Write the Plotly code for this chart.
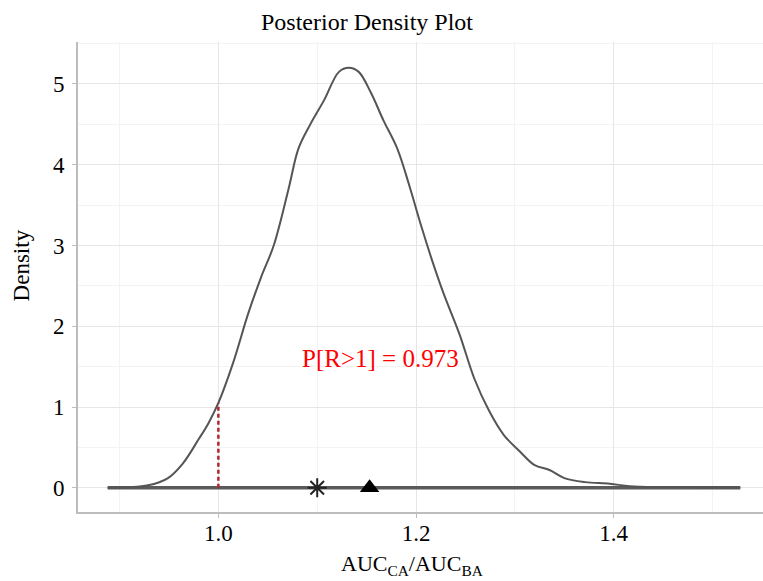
import plotly.graph_objects as go

# density curve
ratio = [0.888, 0.929, 0.949, 0.964, 0.980, 0.990, 1.000, 1.015, 1.030, 1.043, 1.056,
         1.071, 1.081, 1.093, 1.107, 1.122, 1.132, 1.142, 1.154, 1.167, 1.181, 1.193,
         1.205, 1.218, 1.228, 1.244, 1.259, 1.274, 1.289, 1.305, 1.320, 1.335, 1.350,
         1.371, 1.396, 1.416, 1.447, 1.477, 1.528]
density = [0.0, 0.03, 0.12, 0.30, 0.60, 0.80, 1.05, 1.55, 2.15, 2.60, 3.00,
           3.70, 4.20, 4.50, 4.80, 5.15, 5.20, 5.15, 4.90, 4.55, 4.20, 3.75,
           3.25, 2.75, 2.40, 1.90, 1.35, 0.95, 0.65, 0.45, 0.28, 0.22, 0.12,
           0.07, 0.05, 0.02, 0.01, 0.01, 0.0]

ref_x = 1.0
ref_density = 1.05
star_x = 1.10
triangle_x = 1.153
annot_text = "P[R>1] = 0.973"
annot_pos = (1.164, 1.6)

serif = "Liberation Serif, Times New Roman, serif"

fig = go.Figure()
fig.add_trace(go.Scatter(x=[min(ratio), max(ratio)], y=[0, 0], mode="lines",
                         line=dict(color="#5a5a5a", width=3.5), showlegend=False, hoverinfo="skip"))
fig.add_trace(go.Scatter(x=ratio, y=density, mode="lines", line=dict(color="#555555", width=2, shape="spline"),
                         showlegend=False))
fig.add_trace(go.Scatter(x=[ref_x, ref_x], y=[0, ref_density], mode="lines",
                         line=dict(color="#b3262e", width=2.5, dash="4px,3px"), showlegend=False))
fig.add_trace(go.Scatter(x=[star_x], y=[0], mode="markers",
                         marker=dict(symbol="asterisk", size=16, line=dict(color="#222222", width=2)),
                         showlegend=False))
fig.add_trace(go.Scatter(x=[triangle_x], y=[0], mode="markers",
                         marker=dict(symbol="triangle-up", size=17, color="black"), showlegend=False))
fig.add_annotation(x=annot_pos[0], y=annot_pos[1], text=annot_text, showarrow=False,
                   font=dict(family=serif, size=25, color="red"))
fig.add_annotation(xref="paper", yref="paper", x=0.487, y=-0.113, text="AUC<sub>CA</sub>/AUC<sub>BA</sub>",
                   showarrow=False, xanchor="center", yanchor="middle",
                   font=dict(family=serif, size=22, color="black"))
fig.add_annotation(xref="paper", yref="paper", x=-0.083, y=0.525, text="Density", textangle=-90,
                   showarrow=False, xanchor="center", yanchor="middle",
                   font=dict(family=serif, size=23, color="black"))

fig.update_layout(
    width=763, height=581,
    margin=dict(l=78, r=0, t=42, b=69),
    paper_bgcolor="white", plot_bgcolor="white",
    title=dict(text="Posterior Density Plot", x=0.481, xanchor="center", y=0.962, yanchor="middle",
               font=dict(family=serif, size=24, color="black")),
    font=dict(family=serif, size=23, color="black"),
    xaxis=dict(range=[0.858, 1.551], tick0=1.0, dtick=0.2, tickformat=".1f", automargin=False,
               showgrid=True, gridcolor="#e6e6e6", gridwidth=1,
               minor=dict(dtick=0.1, showgrid=True, gridcolor="#f3f3f3"),
               showline=True, linecolor="#bdbdbd", linewidth=2, zeroline=False,
               ticks="outside", ticklen=4, tickcolor="#bdbdbd", ticklabelstandoff=-5,
               tickfont=dict(family=serif, size=23)),
    yaxis=dict(range=[-0.3, 5.52], tick0=0, dtick=1, automargin=False,
               showgrid=True, gridcolor="#e6e6e6", gridwidth=1,
               minor=dict(dtick=0.5, showgrid=True, gridcolor="#f3f3f3"),
               showline=True, linecolor="#bdbdbd", linewidth=2, zeroline=False,
               ticks="outside", ticklen=4, tickcolor="#bdbdbd", ticklabelstandoff=3,
               tickfont=dict(family=serif, size=23)),
)

fig.write_html("out.html", config={"displayModeBar": False},
               post_script="document.body.style.margin='0';")
